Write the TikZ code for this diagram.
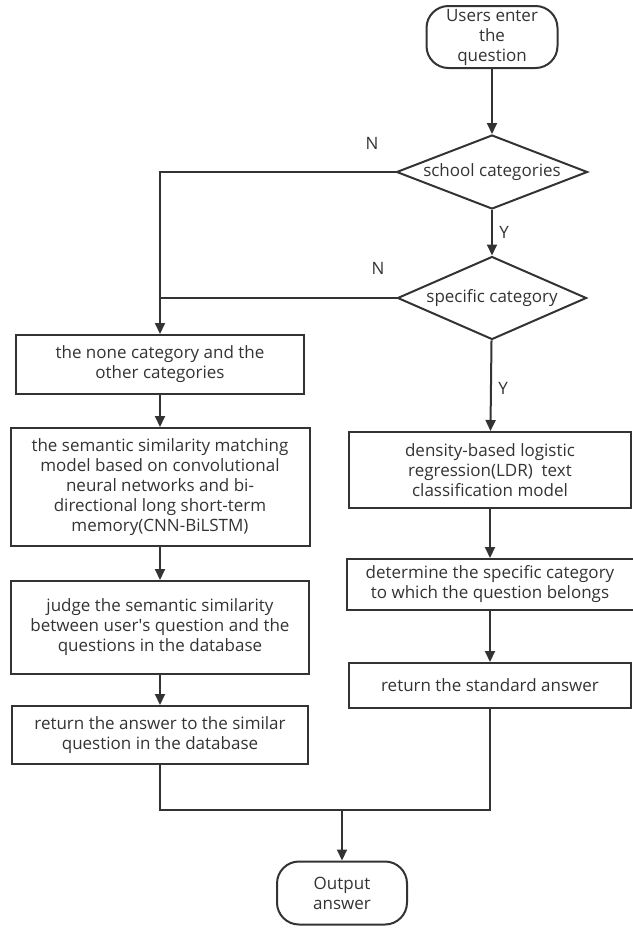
\documentclass[tikz,border=0pt]{standalone}
\usepackage{fontspec}
\setmainfont{Open Sans}
\usetikzlibrary{shapes.geometric,arrows.meta}
\definecolor{ink}{HTML}{333333}

\begin{document}
\begin{tikzpicture}[x=1pt,y=-1pt,
    every node/.style={font=\fontsize{17}{20}\selectfont,text=ink,align=center},
    wire/.style={draw=ink,line width=2pt},
    flow/.style={wire,-{Triangle[length=11pt,width=10pt]}},
    proc/.style={wire,rectangle,inner sep=2pt},
    term/.style={wire,rectangle,rounded corners=22pt,inner sep=2pt},
    decide/.style={wire,diamond,inner sep=0pt}]
    \useasboundingbox (0,0) rectangle (632,929);
    % right column
    \node[term,minimum width=131,minimum height=62] (start) at (492,37) {Users enter\\the\\question};
    \node[decide,shape aspect=2.6,minimum width=191,minimum height=74] (school) at (492,172) {school categories};
    \node[decide,shape aspect=2.3,minimum width=189,minimum height=83] (spec) at (492,298) {specific category};
    \node[proc,minimum width=282,minimum height=76] (ldr) at (490,470) {density-based logistic\\regression(LDR)\ \ text\\classification model};
    \node[proc,minimum width=287,minimum height=51] (det) at (490,584.5) {determine the specific category\\to which the question belongs};
    \node[proc,minimum width=282,minimum height=45] (std) at (490,685.5) {return the standard answer};
    % left column
    \node[proc,minimum width=288,minimum height=59] (none) at (160,364.5) {the none category and the\\other categories};
    \node[proc,minimum width=299,minimum height=118] (cnn) at (160,487) {the semantic similarity matching\\model based on convolutional\\neural networks and bi-\\directional long short-term\\memory(CNN-BiLSTM)};
    \node[proc,minimum width=298,minimum height=93] (judge) at (160,627.5) {judge the semantic similarity\\between user\textquotesingle s question and the\\questions in the database};
    \node[proc,minimum width=296,minimum height=58] (ret) at (160,735) {return the answer to the similar\\question in the database};
    % end
    \node[term,minimum width=130,minimum height=63] (out) at (342,893) {Output\\answer};
    \coordinate (join) at (342,810);

    \draw[flow] (start) -- (school);
    \draw[flow] (school) -- node[right,xshift=3pt] (y1) {Y} (spec);
    \draw[flow] (spec) -- node[right,xshift=3pt,yshift=-3pt] (y2) {Y} (ldr);
    \draw[flow] (ldr) -- (det);
    \draw[flow] (det) -- (std);
    \draw[flow] (school.west) -| (none.north);
    \draw[wire] (spec.west) -- (spec.west -| none.north);
    \node (n1) at (372,143) {N};
    \node (n2) at (378,268) {N};
    \draw[flow] (none) -- (cnn);
    \draw[flow] (cnn) -- (judge);
    \draw[flow] (judge) -- (ret);
    \draw[wire] (ret.south) |- (join) -| (std.south);
    \draw[flow] (join) -- (out);
\end{tikzpicture}
\end{document}
